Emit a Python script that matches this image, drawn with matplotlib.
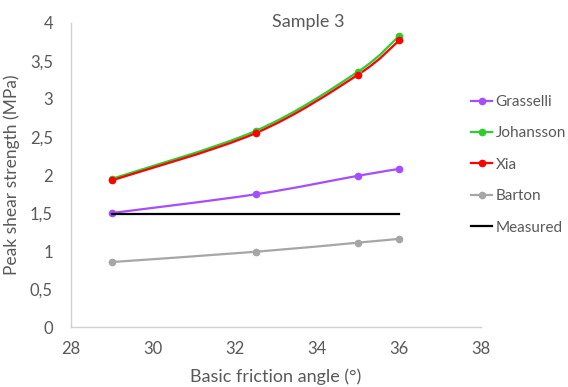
import numpy as np
import matplotlib.pyplot as plt
from matplotlib.path import Path
from matplotlib.patches import PathPatch
from matplotlib.lines import Line2D

plt.rcParams['font.family'] = ['Lato', 'DejaVu Sans']

angle = [29, 32.5, 35, 36]
grasselli = [1.50, 1.746, 1.99, 2.08]
johansson = [1.95, 2.58, 3.36, 3.83]
xia = [1.93, 2.55, 3.32, 3.77]
barton = [0.855, 0.99, 1.11, 1.16]
measured_x = [29, 36]
measured = [1.487, 1.487]

series = [
    ('Grasselli', grasselli, '#a64dff'),
    ('Johansson', johansson, '#2ecc2e'),
    ('Xia', xia, '#ff0000'),
    ('Barton', barton, '#a6a6a6'),
]

text_col = '#595959'


def smooth_path(x, y):
    # Excel-like smoothed line: cubic bezier segments through the points
    pts = np.column_stack([x, y]).astype(float)
    n = len(pts)
    verts = [pts[0]]
    codes = [Path.MOVETO]
    for i in range(n - 1):
        p0 = pts[i - 1] if i > 0 else pts[i]
        p1 = pts[i]
        p2 = pts[i + 1]
        p3 = pts[i + 2] if i + 2 < n else pts[i + 1]
        c1 = p1 + (p2 - p0) / 6
        c2 = p2 - (p3 - p1) / 6
        verts += [c1, c2, p2]
        codes += [Path.CURVE4] * 3
    return Path(verts, codes)


fig = plt.figure(figsize=(5.68, 3.87), dpi=100)
ax = fig.add_axes([0.125, 0.155, 0.722, 0.7856])

handles = []
for name, vals, col in series:
    ax.add_patch(PathPatch(smooth_path(angle, vals), facecolor='none',
                           edgecolor=col, lw=1.6, capstyle='round'))
    ax.plot(angle, vals, 'o', color=col, ms=4.5)
    handles.append(Line2D([], [], color=col, lw=1.6, marker='o', ms=4.5))

ax.plot(measured_x, measured, color='black', lw=1.6)
handles.append(Line2D([], [], color='black', lw=1.6))

ax.set_xlim(28, 38)
ax.set_ylim(0, 4)
ax.set_xticks(np.arange(28, 39, 2))
ax.set_yticks(np.arange(0, 4.01, 0.5))
ax.set_yticklabels(['0', '0,5', '1', '1,5', '2', '2,5', '3', '3,5', '4'])
ax.tick_params(length=0, labelsize=12, labelcolor=text_col)
ax.tick_params(axis='y', pad=13)
ax.tick_params(axis='x', pad=10)
for s in ['top', 'right']:
    ax.spines[s].set_visible(False)
for s in ['left', 'bottom']:
    ax.spines[s].set_color('#d0d0d0')
    ax.spines[s].set_linewidth(1)

ax.set_xlabel('Basic friction angle (°)', fontsize=13, color=text_col, labelpad=8)
ax.set_ylabel('Peak shear strength (MPa)', fontsize=12.5, color=text_col, labelpad=7)

fig.text(308 / 568, 1 - 22 / 387, 'Sample 3', fontsize=13, color=text_col,
         ha='center', va='center')

fig.legend(handles, [s[0] for s in series] + ['Measured'],
           loc='upper left', bbox_to_anchor=(471 / 568, 1 - 95 / 387),
           frameon=False, fontsize=11, labelcolor=text_col,
           handlelength=1.4, handletextpad=0.2, labelspacing=1.14,
           borderaxespad=0, borderpad=0)

fig.savefig('out.png', dpi=100)
